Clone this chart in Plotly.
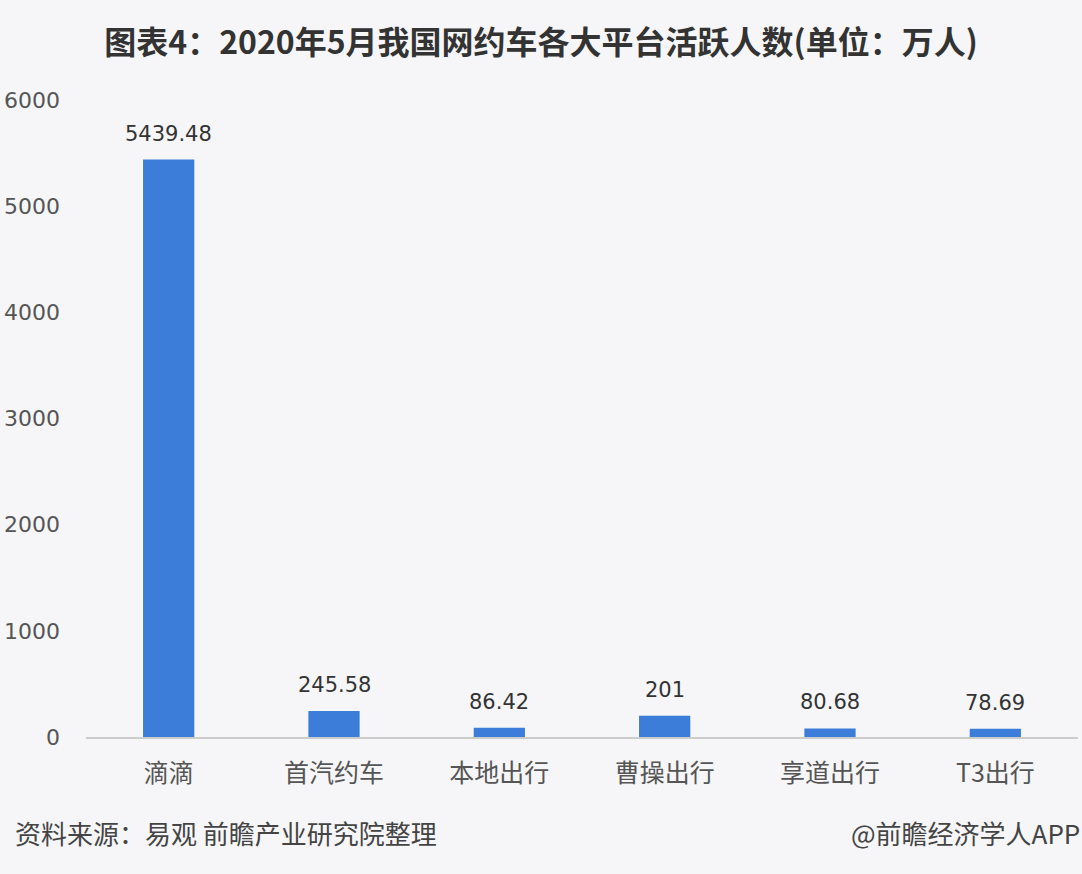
import plotly.graph_objects as go

categories = ["滴滴", "首汽约车", "本地出行", "曹操出行", "享道出行", "T3出行"]
values = [5439.48, 245.58, 86.42, 201, 80.68, 78.69]
value_labels = ["5439.48", "245.58", "86.42", "201", "80.68", "78.69"]
y_ticks = [0, 1000, 2000, 3000, 4000, 5000, 6000]

FONT = "Noto Sans CJK SC"
NUMFONT = "DejaVu Sans"
BG = "#f6f6f8"
L, R, T, B = 84, 4, 100, 137
PW = 1082 - L - R
PH = 874 - T - B

fig = go.Figure(
    go.Bar(
        x=categories,
        y=values,
        marker=dict(color="#3b7dd8", line=dict(width=0)),
        width=0.31,
        hoverinfo="x+y",
    )
)

annotations = []
for c, v, t in zip(categories, values, value_labels):
    annotations.append(
        dict(
            x=c, y=v, text=t, xref="x", yref="y",
            xanchor="center", yanchor="bottom", yshift=12,
            showarrow=False,
            font=dict(family=NUMFONT, size=21, color="#333333"),
        )
    )

annotations += [
    dict(
        text="资料来源：易观 前瞻产业研究院整理",
        xref="paper", yref="paper",
        x=-(L - 11) / PW, y=-95 / PH,
        xanchor="left", yanchor="middle",
        showarrow=False,
        font=dict(family=FONT, size=26, color="#444444"),
    ),
    dict(
        text="@前瞻经济学人APP",
        xref="paper", yref="paper",
        x=1 + R / PW, y=-95 / PH,
        xanchor="right", yanchor="middle",
        showarrow=False,
        font=dict(family=FONT, size=26, color="#444444"),
    ),
]

fig.update_layout(
    width=1082,
    height=874,
    paper_bgcolor=BG,
    plot_bgcolor=BG,
    margin=dict(l=L, r=R, t=T, b=B),
    showlegend=False,
    title=dict(
        text="<b>图表4：2020年5月我国网约车各大平台活跃人数(单位：万人)</b>",
        x=0.5,
        xanchor="center",
        y=1 - 43 / 874,
        yanchor="middle",
        font=dict(family=FONT, size=32, color="#333333"),
    ),
    xaxis=dict(
        showgrid=False,
        showline=True,
        linecolor="#cccccc",
        linewidth=1.5,
        ticks="",
        tickfont=dict(family=FONT, size=25, color="#555555"),
        ticklabelstandoff=13,
    ),
    yaxis=dict(
        range=[0, 6000],
        tickvals=y_ticks,
        showgrid=False,
        zeroline=False,
        showline=False,
        ticks="",
        tickfont=dict(family=NUMFONT, size=22, color="#555555"),
        ticklabelstandoff=25,
    ),
    annotations=annotations,
)

fig.write_html(
    "out.html",
    config={"displayModeBar": False},
    post_script="document.body.style.margin='0';document.body.style.overflow='hidden';",
)
